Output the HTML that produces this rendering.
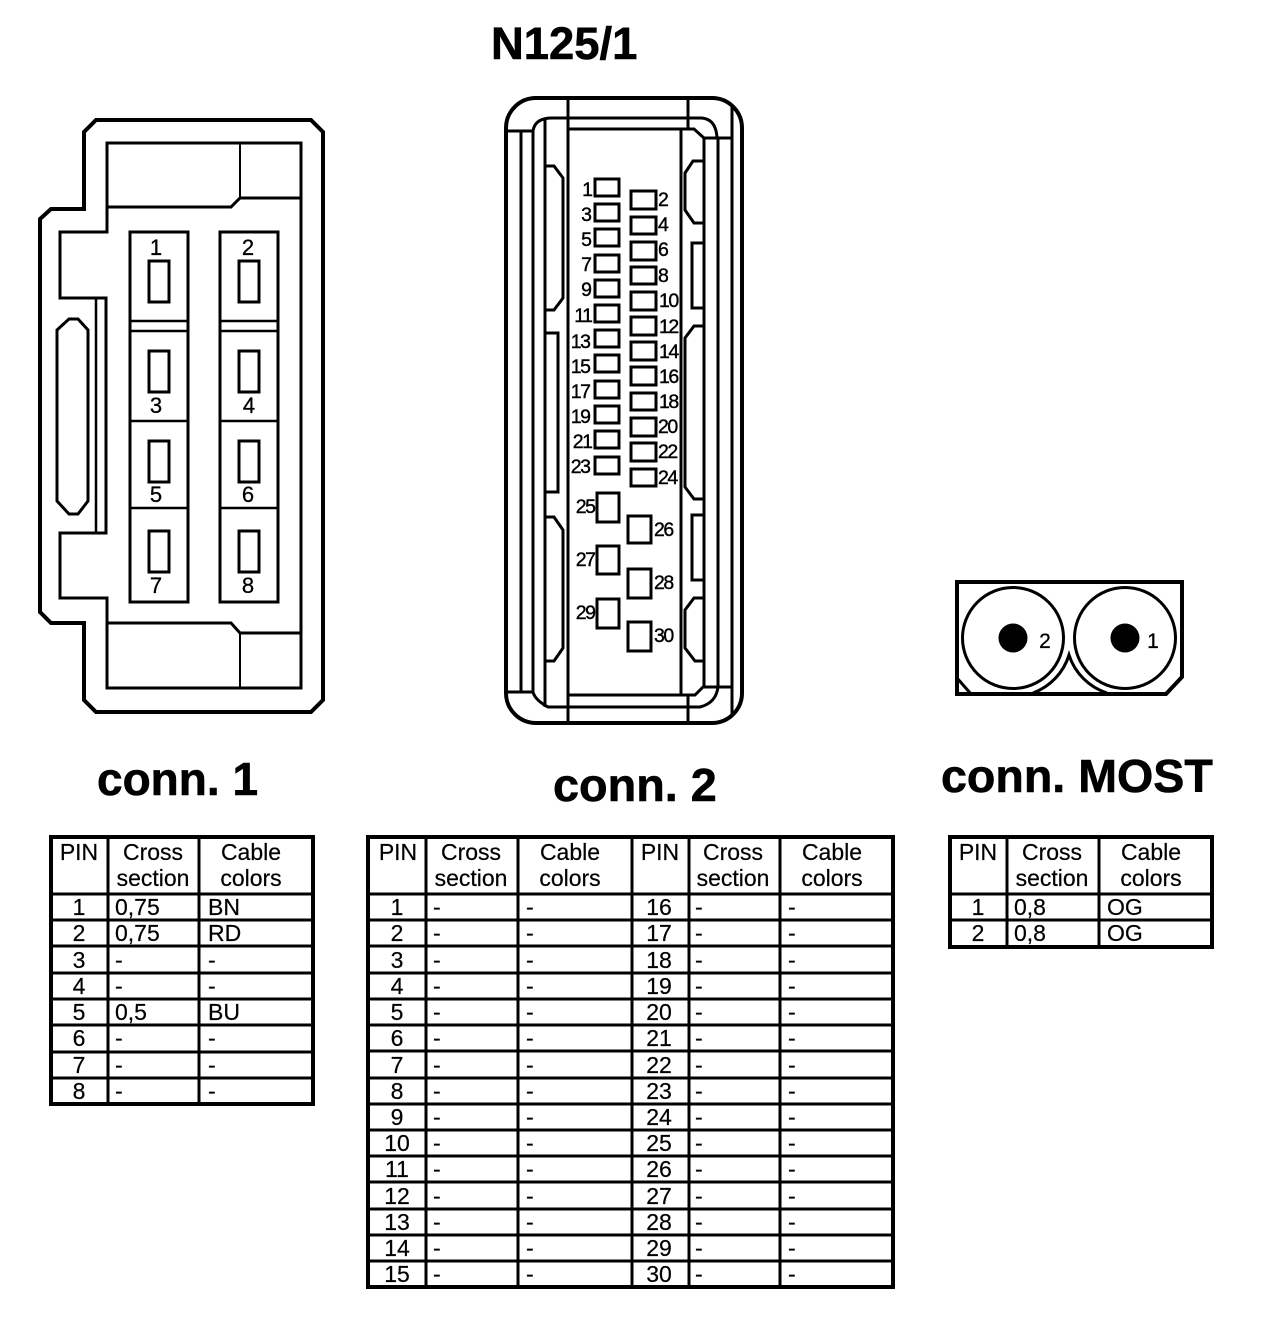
<!DOCTYPE html>
<html><head><meta charset="utf-8"><title>N125/1</title>
<style>
html,body{margin:0;padding:0;background:#fff}
svg{display:block}
text{font-family:"Liberation Sans",Arial,sans-serif;fill:#000}
.t{font-weight:bold;font-size:46px;stroke:#000;stroke-width:.6}
.l{font-size:22px;text-anchor:middle;stroke:#000;stroke-width:.3}
.p{font-size:19.5px;letter-spacing:-1.5px;stroke:#000;stroke-width:.4}
.e{text-anchor:end;transform:translateX(-1.5px)}
.c{font-size:23px;text-anchor:middle;stroke:#000;stroke-width:.2}
.d{font-size:23px;stroke:#000;stroke-width:.2}
.s path,.s rect,.s circle,.s line{fill:none;stroke:#000;stroke-width:3}
</style></head><body>
<svg width="1264" height="1320" viewBox="0 0 1264 1320" xmlns="http://www.w3.org/2000/svg">
<rect width="1264" height="1320" fill="#fff"/>
<text class="t" x="491" y="59" style="font-size:45.4px">N125/1</text>
<text class="t" x="97" y="795">conn. 1</text>
<text class="t" x="553" y="801" style="font-size:46.8px">conn. 2</text>
<text class="t" x="941" y="792" style="font-size:46.6px">conn. MOST</text>

<!-- conn 1 -->
<g class="s">
<path style="stroke-width:4" d="M96 120H311L323 132V700L311 712H96L84 700V623H51L40 612V219L51 209H84V132Z"/>
<path d="M107 143H301V688H107V598H60V533H106V298H60V232H107Z"/>
<path d="M107 207H231L240 198H301M107 623H231L240 633H301"/>
<path style="stroke-width:2" d="M240 143V198M240 633V688"/>
<line x1="96" y1="298" x2="96" y2="533" style="stroke-width:2.5"/>
<path d="M69 319H78L88 330V501L78 514H69L57 501V330Z"/>
<rect x="130" y="232" width="58" height="370"/>
<rect x="220" y="232" width="58" height="370"/>
<path style="stroke-width:2.5" d="M130 321H188M130 331H188M130 421H188M130 508H188M220 321H278M220 331H278M220 421H278M220 508H278"/>
<rect x="149" y="261" width="20" height="41"/><rect x="239" y="261" width="20" height="41"/>
<rect x="149" y="351" width="20" height="41"/><rect x="239" y="351" width="20" height="41"/>
<rect x="149" y="441" width="20" height="41"/><rect x="239" y="441" width="20" height="41"/>
<rect x="149" y="531" width="20" height="41"/><rect x="239" y="531" width="20" height="41"/>
</g>
<text class="l" x="156" y="255">1</text><text class="l" x="248" y="255">2</text>
<text class="l" x="156" y="413">3</text><text class="l" x="249" y="413">4</text>
<text class="l" x="156" y="502">5</text><text class="l" x="248" y="502">6</text>
<text class="l" x="156" y="593">7</text><text class="l" x="248" y="593">8</text>

<!-- conn 2 -->
<g class="s">
<path style="stroke-width:4" d="M536 98H712A30 30 0 0 1 742 128V693A30 30 0 0 1 712 723H536A30 30 0 0 1 506 693V128A30 30 0 0 1 536 98Z"/>
<path d="M506 131H533M521 131V692M533 131V692M506 692H533M533 131Q535 118 552 118H700Q716 118 717 138M533 692Q535 700 548 707H700Q716 703 718 687"/>
<path d="M545 118V707M568 98V723M688 98V129M688 695V723"/>
<path d="M568 129H694L704 138V686L695 695H568M681 129V695M704 138H732M704 687H732M718 138V687M732 106V715"/>
<path d="M545 166H554L563 178V298L554 310H545M545 333H558V492H545M545 517H554L563 530V648L554 661H545"/>
<path d="M704 161H693L685 173V210L694 223H704M704 243H692V308H704M704 326H694L685 338V487L694 499H704M704 515H692V580H704M704 598H694L685 610V648L695 661H704"/>
<rect x="595" y="179" width="24" height="17"/><rect x="595" y="204" width="24" height="17"/>
<rect x="595" y="229" width="24" height="17"/><rect x="595" y="255" width="24" height="17"/>
<rect x="595" y="280" width="24" height="17"/><rect x="595" y="305" width="24" height="17"/>
<rect x="595" y="330" width="24" height="17"/><rect x="595" y="355" width="24" height="17"/>
<rect x="595" y="381" width="24" height="17"/><rect x="595" y="406" width="24" height="17"/>
<rect x="595" y="431" width="24" height="17"/><rect x="595" y="457" width="24" height="17"/>
<rect x="631" y="191" width="25" height="18"/><rect x="631" y="217" width="25" height="17"/>
<rect x="631" y="242" width="25" height="18"/><rect x="631" y="267" width="25" height="17"/>
<rect x="631" y="292" width="25" height="18"/><rect x="631" y="317" width="25" height="18"/>
<rect x="631" y="342" width="25" height="18"/><rect x="631" y="367" width="25" height="18"/>
<rect x="631" y="393" width="25" height="17"/><rect x="631" y="418" width="25" height="18"/>
<rect x="631" y="443" width="25" height="18"/><rect x="631" y="469" width="25" height="17"/>
<rect x="597" y="493" width="22" height="29"/><rect x="597" y="546" width="22" height="28"/>
<rect x="597" y="599" width="22" height="29"/>
<rect x="628" y="516" width="23" height="27"/><rect x="628" y="569" width="23" height="29"/>
<rect x="628" y="622" width="23" height="29"/>
</g>
<text class="p e" x="593" y="196">1</text><text class="p e" x="592" y="221">3</text>
<text class="p e" x="592" y="246">5</text><text class="p e" x="592" y="271">7</text>
<text class="p e" x="592" y="296">9</text><text class="p e" x="593" y="322">11</text>
<text class="p e" x="591" y="348">13</text><text class="p e" x="591" y="373">15</text>
<text class="p e" x="591" y="398">17</text><text class="p e" x="591" y="423">19</text>
<text class="p e" x="593" y="448">21</text><text class="p e" x="591" y="473">23</text>
<text class="p e" x="596" y="513">25</text><text class="p e" x="596" y="566">27</text>
<text class="p e" x="596" y="619">29</text>
<text class="p" x="658" y="206">2</text><text class="p" x="658" y="231">4</text>
<text class="p" x="658" y="256">6</text><text class="p" x="658" y="282">8</text>
<text class="p" x="659" y="307">10</text><text class="p" x="659" y="333">12</text>
<text class="p" x="659" y="358">14</text><text class="p" x="659" y="383">16</text>
<text class="p" x="659" y="408">18</text><text class="p" x="658" y="433">20</text>
<text class="p" x="658" y="458">22</text><text class="p" x="658" y="484">24</text>
<text class="p" x="654" y="536">26</text><text class="p" x="654" y="589">28</text>
<text class="p" x="654" y="642">30</text>

<!-- conn MOST -->
<g class="s">
<path style="stroke-width:4" d="M957 582H1182V677L1166 694H957Z"/>
<circle cx="1013" cy="638" r="50.5"/><circle cx="1125" cy="638" r="50.5"/>
<path d="M957 678L971 694M1033 693A59 59 0 0 0 1069 655A59 59 0 0 0 1107 693"/>
</g>
<circle cx="1013" cy="638" r="14.5"/><circle cx="1125" cy="638" r="14.5"/>
<text x="1045" y="648" style="font-size:21px;text-anchor:middle;stroke:#000;stroke-width:.3">2</text>
<text x="1153" y="648" style="font-size:21px;text-anchor:middle;stroke:#000;stroke-width:.3">1</text>

<!-- tables -->
<g class="s" shape-rendering="crispEdges">
<rect x="51" y="837" width="262" height="267" style="stroke-width:4"/>
<path d="M108 837V1104M199 837V1104M51 894H313M51 920H313M51 946H313M51 973H313M51 999H313M51 1025H313M51 1052H313M51 1078H313"/>
<rect x="368" y="837" width="525" height="450" style="stroke-width:4"/>
<path d="M426 837V1287M518 837V1287M632 837V1287M689 837V1287M780 837V1287M368 894H893M368 920H893M368 946H893M368 973H893M368 999H893M368 1025H893M368 1051H893M368 1078H893M368 1104H893M368 1130H893M368 1156H893M368 1182H893M368 1209H893M368 1235H893M368 1261H893"/>
<rect x="950" y="837" width="262" height="110" style="stroke-width:4"/>
<path d="M1007 837V947M1099 837V947M950 894H1212M950 920H1212"/>
</g>

<!-- table 1 text -->
<text class="c" x="79" y="860">PIN</text><text class="c" x="153" y="860">Cross</text><text class="c" x="153" y="886">section</text><text class="c" x="251" y="860">Cable</text><text class="c" x="251" y="886">colors</text>
<text class="c" x="79" y="915">1</text><text class="d" x="115" y="915">0,75</text><text class="d" x="208" y="915">BN</text>
<text class="c" x="79" y="941">2</text><text class="d" x="115" y="941">0,75</text><text class="d" x="208" y="941">RD</text>
<text class="c" x="79" y="968">3</text><text class="d" x="115" y="968">-</text><text class="d" x="208" y="968">-</text>
<text class="c" x="79" y="994">4</text><text class="d" x="115" y="994">-</text><text class="d" x="208" y="994">-</text>
<text class="c" x="79" y="1020">5</text><text class="d" x="115" y="1020">0,5</text><text class="d" x="208" y="1020">BU</text>
<text class="c" x="79" y="1046">6</text><text class="d" x="115" y="1046">-</text><text class="d" x="208" y="1046">-</text>
<text class="c" x="79" y="1073">7</text><text class="d" x="115" y="1073">-</text><text class="d" x="208" y="1073">-</text>
<text class="c" x="79" y="1099">8</text><text class="d" x="115" y="1099">-</text><text class="d" x="208" y="1099">-</text>

<!-- table 2 text -->
<text class="c" x="398" y="860">PIN</text><text class="c" x="471" y="860">Cross</text><text class="c" x="471" y="886">section</text><text class="c" x="570" y="860">Cable</text><text class="c" x="570" y="886">colors</text>
<text class="c" x="660" y="860">PIN</text><text class="c" x="733" y="860">Cross</text><text class="c" x="733" y="886">section</text><text class="c" x="832" y="860">Cable</text><text class="c" x="832" y="886">colors</text>
<text class="c" x="397" y="915">1</text><text class="d" x="433" y="915">-</text><text class="d" x="526" y="915">-</text><text class="c" x="659" y="915">16</text><text class="d" x="695" y="915">-</text><text class="d" x="788" y="915">-</text>
<text class="c" x="397" y="941">2</text><text class="d" x="433" y="941">-</text><text class="d" x="526" y="941">-</text><text class="c" x="659" y="941">17</text><text class="d" x="695" y="941">-</text><text class="d" x="788" y="941">-</text>
<text class="c" x="397" y="968">3</text><text class="d" x="433" y="968">-</text><text class="d" x="526" y="968">-</text><text class="c" x="659" y="968">18</text><text class="d" x="695" y="968">-</text><text class="d" x="788" y="968">-</text>
<text class="c" x="397" y="994">4</text><text class="d" x="433" y="994">-</text><text class="d" x="526" y="994">-</text><text class="c" x="659" y="994">19</text><text class="d" x="695" y="994">-</text><text class="d" x="788" y="994">-</text>
<text class="c" x="397" y="1020">5</text><text class="d" x="433" y="1020">-</text><text class="d" x="526" y="1020">-</text><text class="c" x="659" y="1020">20</text><text class="d" x="695" y="1020">-</text><text class="d" x="788" y="1020">-</text>
<text class="c" x="397" y="1046">6</text><text class="d" x="433" y="1046">-</text><text class="d" x="526" y="1046">-</text><text class="c" x="659" y="1046">21</text><text class="d" x="695" y="1046">-</text><text class="d" x="788" y="1046">-</text>
<text class="c" x="397" y="1073">7</text><text class="d" x="433" y="1073">-</text><text class="d" x="526" y="1073">-</text><text class="c" x="659" y="1073">22</text><text class="d" x="695" y="1073">-</text><text class="d" x="788" y="1073">-</text>
<text class="c" x="397" y="1099">8</text><text class="d" x="433" y="1099">-</text><text class="d" x="526" y="1099">-</text><text class="c" x="659" y="1099">23</text><text class="d" x="695" y="1099">-</text><text class="d" x="788" y="1099">-</text>
<text class="c" x="397" y="1125">9</text><text class="d" x="433" y="1125">-</text><text class="d" x="526" y="1125">-</text><text class="c" x="659" y="1125">24</text><text class="d" x="695" y="1125">-</text><text class="d" x="788" y="1125">-</text>
<text class="c" x="397" y="1151">10</text><text class="d" x="433" y="1151">-</text><text class="d" x="526" y="1151">-</text><text class="c" x="659" y="1151">25</text><text class="d" x="695" y="1151">-</text><text class="d" x="788" y="1151">-</text>
<text class="c" x="397" y="1177">11</text><text class="d" x="433" y="1177">-</text><text class="d" x="526" y="1177">-</text><text class="c" x="659" y="1177">26</text><text class="d" x="695" y="1177">-</text><text class="d" x="788" y="1177">-</text>
<text class="c" x="397" y="1204">12</text><text class="d" x="433" y="1204">-</text><text class="d" x="526" y="1204">-</text><text class="c" x="659" y="1204">27</text><text class="d" x="695" y="1204">-</text><text class="d" x="788" y="1204">-</text>
<text class="c" x="397" y="1230">13</text><text class="d" x="433" y="1230">-</text><text class="d" x="526" y="1230">-</text><text class="c" x="659" y="1230">28</text><text class="d" x="695" y="1230">-</text><text class="d" x="788" y="1230">-</text>
<text class="c" x="397" y="1256">14</text><text class="d" x="433" y="1256">-</text><text class="d" x="526" y="1256">-</text><text class="c" x="659" y="1256">29</text><text class="d" x="695" y="1256">-</text><text class="d" x="788" y="1256">-</text>
<text class="c" x="397" y="1282">15</text><text class="d" x="433" y="1282">-</text><text class="d" x="526" y="1282">-</text><text class="c" x="659" y="1282">30</text><text class="d" x="695" y="1282">-</text><text class="d" x="788" y="1282">-</text>

<!-- table 3 text -->
<text class="c" x="978" y="860">PIN</text><text class="c" x="1052" y="860">Cross</text><text class="c" x="1052" y="886">section</text><text class="c" x="1151" y="860">Cable</text><text class="c" x="1151" y="886">colors</text>
<text class="c" x="978" y="915">1</text><text class="d" x="1014" y="915">0,8</text><text class="d" x="1107" y="915">OG</text>
<text class="c" x="978" y="941">2</text><text class="d" x="1014" y="941">0,8</text><text class="d" x="1107" y="941">OG</text>
</svg>
</body></html>
